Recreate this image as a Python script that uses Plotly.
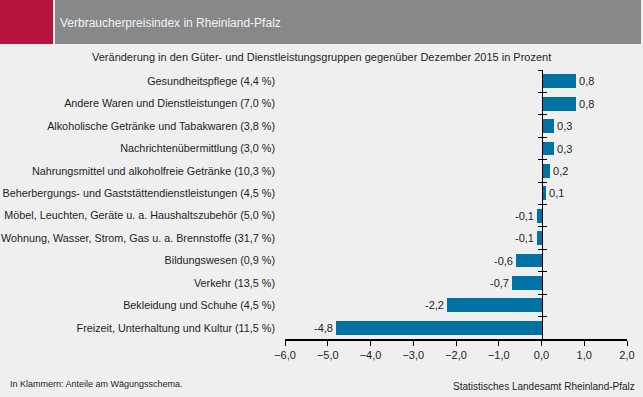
import plotly.graph_objects as go

categories = [
    "Gesundheitspflege (4,4 %)",
    "Andere Waren und Dienstleistungen (7,0 %)",
    "Alkoholische Getränke und Tabakwaren (3,8 %)",
    "Nachrichtenübermittlung (3,0 %)",
    "Nahrungsmittel und alkoholfreie Getränke (10,3 %)",
    "Beherbergungs- und Gaststättendienstleistungen (4,5 %)",
    "Möbel, Leuchten, Geräte u. a. Haushaltszubehör (5,0 %)",
    "Wohnung, Wasser, Strom, Gas u. a. Brennstoffe (31,7 %)",
    "Bildungswesen (0,9 %)",
    "Verkehr (13,5 %)",
    "Bekleidung und Schuhe (4,5 %)",
    "Freizeit, Unterhaltung und Kultur (11,5 %)",
]
values = [0.8, 0.8, 0.3, 0.3, 0.2, 0.1, -0.1, -0.1, -0.6, -0.7, -2.2, -4.8]
x_ticks = [-6, -5, -4, -3, -2, -1, 0, 1, 2]

W, H = 643, 397
FONT = "Liberation Sans, Arial, sans-serif"
TXT = "#1e1e1e"
BG = "#eeefee"

n = len(categories)
pos = list(range(n))
labels = [f"{v:.1f}".replace(".", ",") for v in values]

xmin, xmax = x_ticks[0], x_ticks[-1]
xdom = [285 / W, 627 / W]
ydom = [1 - 339 / H, 1 - 70 / H]
zero_pos = xdom[0] + (0 - xmin) / (xmax - xmin) * (xdom[1] - xdom[0])
yrange = [n - 0.5, -0.5]
bounds = [i - 0.5 for i in range(n + 1)]

fig = go.Figure()
fig.add_trace(go.Bar(
    x=values, y=pos, orientation="h", width=0.62,
    marker=dict(color="#0072a3", line=dict(width=0)),
    text=labels, textposition="outside", cliponaxis=False,
    textfont=dict(family=FONT, size=11, color=TXT),
    hoverinfo="skip",
))
# invisible helper traces so the zero-line axes are rendered
for ax in ["y2", "y3"]:
    fig.add_trace(go.Scatter(x=[0], y=[0], yaxis=ax, mode="markers",
                             marker=dict(opacity=0), hoverinfo="skip", showlegend=False))

axis_common = dict(range=yrange, domain=ydom, showgrid=False, zeroline=False,
                   showticklabels=False, tickmode="array", tickvals=bounds,
                   showline=True, linecolor="#000", linewidth=1,
                   tickcolor="#000", tickwidth=1, ticklen=4,
                   anchor="free", position=zero_pos, overlaying="y")

fig.update_layout(
    width=W, height=H, autosize=False,
    margin=dict(l=0, r=0, t=0, b=0),
    paper_bgcolor=BG, plot_bgcolor=BG,
    separators=",.",
    showlegend=False,
    font=dict(family=FONT, size=11, color=TXT),
    bargap=0,
    xaxis=dict(domain=xdom, range=[xmin, xmax], tickmode="array", tickvals=x_ticks,
               tickformat=".1f", showgrid=False, zeroline=False,
               showline=True, linecolor="#000", linewidth=1.5,
               ticks="outside", ticklen=5, tickcolor="#000", tickwidth=1,
               tickfont=dict(family=FONT, size=11, color=TXT),
               anchor="y", automargin=False, fixedrange=True),
    yaxis=dict(domain=ydom, range=yrange, tickmode="array", tickvals=pos,
               ticktext=categories, showgrid=False, zeroline=False,
               showline=False, ticks="", ticklabelstandoff=9,
               tickfont=dict(family=FONT, size=10.8, color=TXT),
               automargin=False, fixedrange=True),
    yaxis2=dict(ticks="outside", side="left", **axis_common),
    yaxis3=dict(ticks="inside", side="left", **axis_common),
    shapes=[
        dict(type="rect", xref="paper", yref="paper", x0=0, x1=53 / W,
             y0=1 - 44 / H, y1=1, fillcolor="#b5123e", line=dict(width=0), layer="below"),
        dict(type="rect", xref="paper", yref="paper", x0=55 / W, x1=641 / W,
             y0=1 - 44 / H, y1=1, fillcolor="#87888a", line=dict(width=0), layer="below"),
    ],
    annotations=[
        dict(text="Verbraucherpreisindex in Rheinland-Pfalz", xref="paper", yref="paper",
             x=58 / W, y=1 - 23 / H, xanchor="left", yanchor="middle", showarrow=False,
             font=dict(family=FONT, size=12, color="#f4f4f4")),
        dict(text="Veränderung in den Güter- und Dienstleistungsgruppen gegenüber Dezember 2015 in Prozent",
             xref="paper", yref="paper", x=321 / W, y=1 - 57 / H, xanchor="center",
             yanchor="middle", showarrow=False, font=dict(family=FONT, size=11, color=TXT)),
        dict(text="In Klammern: Anteile am Wägungsschema.", xref="paper", yref="paper",
             x=8 / W, y=1 - 384 / H, xanchor="left", yanchor="middle", showarrow=False,
             font=dict(family=FONT, size=9, color=TXT)),
        dict(text="Statistisches Landesamt Rheinland-Pfalz", xref="paper", yref="paper",
             x=637 / W, y=1 - 386 / H, xanchor="right", yanchor="middle", showarrow=False,
             font=dict(family=FONT, size=10, color=TXT)),
    ],
)

fig.write_html("out.html", config={"displayModeBar": False},
               post_script="document.body.style.margin='0';document.body.style.padding='0';document.body.style.overflow='hidden';")
